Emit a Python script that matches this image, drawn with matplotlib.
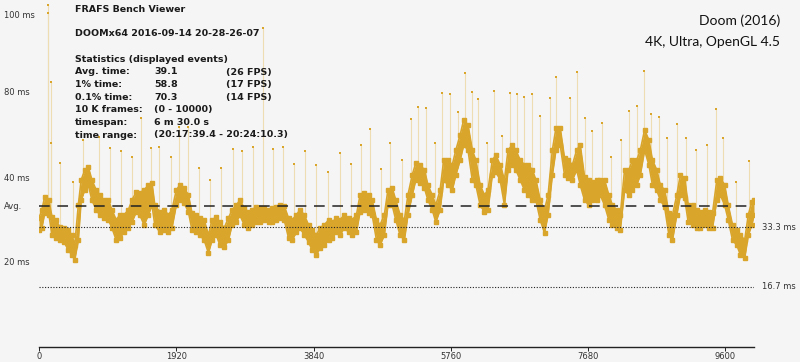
import numpy as np
import matplotlib
matplotlib.use('Agg')
import matplotlib.pyplot as plt
import matplotlib.transforms as mtransforms

# frame-time band (ms), lower and upper edge of the dot cloud
frames = [0, 40, 80, 140, 180, 240, 290, 350, 410, 460,
          500, 550, 590, 640, 690, 740, 800, 850, 910, 970,
          1020, 1080, 1130, 1190, 1250, 1300, 1360, 1410, 1470, 1530,
          1580, 1620, 1690, 1750, 1810, 1860, 1920, 1970, 2030, 2090,
          2140, 2200, 2250, 2310, 2370, 2420, 2480, 2530, 2590, 2650,
          2700, 2760, 2810, 2870, 2930, 2980, 3040, 3090, 3150, 3210,
          3260, 3320, 3370, 3430, 3490, 3540, 3600, 3650, 3710, 3770,
          3820, 3880, 3930, 3990, 4050, 4100, 4160, 4210, 4270, 4330,
          4380, 4440, 4490, 4550, 4610, 4660, 4720, 4770, 4830, 4880,
          4940, 4990, 5050, 5110, 5160, 5220, 5270, 5330, 5390, 5440,
          5500, 5550, 5610, 5660, 5720, 5780, 5830, 5890, 5940, 6000,
          6060, 6110, 6170, 6230, 6280, 6340, 6390, 6450, 6510, 6560,
          6620, 6670, 6730, 6790, 6840, 6900, 6950, 7010, 7070, 7120,
          7180, 7230, 7290, 7350, 7400, 7460, 7520, 7570, 7630, 7690,
          7740, 7800, 7850, 7910, 7970, 8020, 8080, 8130, 8190, 8250,
          8300, 8360, 8410, 8470, 8530, 8580, 8640, 8690, 8750, 8810,
          8860, 8920, 8970, 9030, 9080, 9140, 9200, 9250, 9310, 9370,
          9420, 9480, 9530, 9590, 9640, 9700, 9760, 9810, 9870, 9920,
          9970, 10000]

band_hi = [35.8, 38.1, 41.7, 40.8, 36.1, 35.3, 33.3, 33.1, 32.5, 31.1,
           28.3, 39.4, 46.4, 49.2, 50.0, 46.4, 43.6, 42.2, 40.8, 40.8,
           38.1, 35.3, 36.7, 36.7, 38.1, 40.8, 43.1, 42.8, 43.6, 45.0,
           45.6, 39.4, 37.5, 38.1, 36.7, 38.1, 43.6, 45.0, 44.2, 42.2,
           37.2, 36.7, 35.8, 35.3, 31.1, 35.3, 36.1, 34.7, 33.1, 35.8,
           38.1, 39.4, 40.8, 38.6, 37.5, 38.1, 38.9, 38.6, 38.6, 38.1,
           38.6, 38.9, 39.4, 39.2, 35.8, 35.3, 36.7, 38.1, 36.7, 33.9,
           32.5, 31.1, 33.1, 33.9, 35.3, 34.7, 35.8, 35.3, 36.7, 35.8,
           35.3, 36.7, 42.2, 42.8, 42.2, 40.8, 35.3, 33.9, 36.7, 43.6,
           44.2, 40.8, 36.7, 35.3, 42.2, 47.8, 51.1, 50.6, 49.2, 45.0,
           42.2, 39.4, 43.6, 51.9, 51.9, 50.6, 54.7, 58.9, 63.1, 61.7,
           54.7, 51.9, 45.0, 42.2, 43.6, 51.9, 53.3, 50.6, 46.4, 54.7,
           56.1, 54.7, 51.9, 50.6, 50.6, 49.2, 46.4, 40.8, 38.1, 42.2,
           54.7, 60.8, 60.8, 52.5, 51.9, 50.6, 54.7, 56.1, 47.2, 46.4,
           45.8, 46.4, 46.4, 46.4, 42.2, 39.4, 38.1, 36.7, 49.2, 49.2,
           51.9, 51.9, 54.7, 60.3, 57.5, 51.9, 49.2, 45.0, 43.6, 37.2,
           36.7, 42.2, 47.8, 46.9, 39.4, 39.4, 38.1, 37.5, 38.1, 37.5,
           37.2, 46.4, 46.9, 45.0, 39.4, 33.9, 32.5, 31.1, 29.7, 36.7,
           40.3, 40.8]

band_lo = [32.5, 33.1, 37.2, 36.7, 31.1, 30.3, 29.7, 29.2, 26.9, 25.6,
           24.2, 29.7, 40.8, 43.6, 45.0, 40.8, 38.1, 36.7, 35.8, 35.3,
           33.1, 29.7, 30.3, 31.9, 33.1, 34.7, 37.5, 36.7, 33.9, 36.7,
           39.4, 33.9, 31.9, 32.5, 31.9, 33.1, 39.4, 40.8, 40.0, 37.5,
           32.5, 31.9, 31.1, 29.7, 26.1, 29.7, 31.1, 28.3, 27.8, 29.7,
           33.9, 34.7, 36.7, 33.9, 33.1, 33.9, 34.7, 34.7, 35.3, 34.7,
           34.7, 35.3, 35.8, 35.3, 30.3, 29.7, 31.9, 33.1, 31.1, 29.2,
           26.9, 25.6, 27.5, 28.3, 29.7, 30.3, 31.9, 31.1, 33.1, 31.9,
           31.1, 31.9, 37.5, 38.1, 37.2, 36.7, 29.7, 28.3, 31.1, 39.4,
           39.4, 35.3, 31.1, 29.7, 36.7, 42.2, 46.4, 45.6, 44.2, 40.8,
           38.1, 34.7, 38.1, 46.4, 45.0, 43.6, 47.8, 51.9, 56.1, 54.7,
           46.4, 45.0, 39.4, 37.5, 38.1, 47.8, 48.6, 46.4, 39.4, 49.2,
           50.6, 49.2, 46.4, 43.6, 42.2, 40.8, 40.8, 35.3, 31.7, 36.7,
           47.8, 54.7, 56.1, 47.8, 46.9, 46.4, 49.2, 45.0, 40.8, 39.4,
           40.8, 40.8, 42.2, 39.4, 35.3, 33.9, 33.1, 32.5, 43.6, 42.2,
           43.6, 45.0, 47.8, 54.7, 50.6, 45.0, 43.6, 40.8, 38.9, 31.1,
           29.7, 36.7, 42.2, 41.4, 34.7, 33.9, 33.1, 33.1, 33.9, 33.1,
           33.1, 40.8, 42.2, 39.4, 35.3, 29.7, 28.3, 25.6, 24.7, 31.1,
           33.9, 36.7]

# single-frame spikes (frame, ms)
spike_frames = [122, 130, 168, 163, 300, 470, 610, 845, 995, 1140, 1300, 1420, 1570,
                1685, 1840, 1955, 2085, 2235, 2395, 2550, 2710, 2840, 2990, 3130,
                3270, 3410, 3560, 3715, 3870, 4040, 4205, 4360, 4505, 4635, 4780,
                4910, 5070, 5200, 5305, 5415, 5535, 5640, 5750, 5860, 5955, 6050,
                6140, 6270, 6370, 6480, 6585, 6690, 6790, 6900, 7005, 7140, 7230,
                7430, 7530, 7635, 7740, 7870, 7995, 8140, 8250, 8360, 8465, 8555,
                8670, 8790, 8930, 9050, 9185, 9340, 9470, 9570, 9750, 9925]
spike_ms = [95.0, 92.7, 73.7, 56.6, 51.0, 45.9, 57.5, 58.4, 55.2, 54.5, 52.7, 63.7, 55.2,
            55.6, 52.7, 61.2, 61.2, 49.6, 46.4, 49.6, 54.9, 54.5, 55.6, 88.5,
            55.0, 55.5, 50.8, 54.5, 50.6, 48.5, 53.8, 50.8, 56.1, 60.7, 49.4,
            56.8, 51.9, 63.3, 66.8, 66.5, 56.8, 70.7, 70.2, 65.4, 76.0, 70.9,
            68.9, 56.8, 71.2, 58.6, 70.7, 70.3, 69.5, 70.3, 64.3, 69.3, 75.1,
            69.3, 76.5, 63.5, 60.0, 62.1, 52.9, 57.5, 65.6, 67.0, 76.8, 64.6,
            63.8, 58.0, 61.9, 58.1, 54.7, 56.0, 66.0, 58.2, 45.9, 51.8]

avg_ms = 39.1
ref_lines = [33.3, 16.7]
xticks = [0, 1920, 3840, 5760, 7680, 9600]
ytick_pos = [92.2, 70.6, 46.9, 39.1, 23.6]
ytick_labels = ['100 ms', '80 ms', '40 ms', 'Avg.', '20 ms']

stats = [('Avg. time:', '39.1', '(26 FPS)'),
         ('1% time:', '58.8', '(17 FPS)'),
         ('0.1% time:', '70.3', '(14 FPS)'),
         ('10 K frames:', '(0 - 10000)', ''),
         ('timespan:', '6 m 30.0 s', ''),
         ('time range:', '(20:17:39.4 - 20:24:10.3)', '')]

gold = '#D9A52B'
pale = '#EEDDB2'
ink = '#1A1A1A'

fig = plt.figure(figsize=(8, 3.62), dpi=100, facecolor='#F5F5F5')
ax = fig.add_axes([39 / 800, 15 / 362, 715 / 800, 347 / 362])
ax.set_facecolor('none')
ax.set_xlim(0, 10000)
ax.set_ylim(0, 96.4)

# spikes: thin pale line up from the band, dot on top
base = np.interp(spike_frames, frames, band_lo)
ax.vlines(spike_frames, base, spike_ms, color=pale, lw=0.8, zorder=1)
ax.scatter(spike_frames, spike_ms, s=3, marker='s', color=gold, lw=0, zorder=3)

# the dot cloud
ax.fill_between(frames, band_lo, band_hi, color=gold, lw=0, zorder=2)
ax.plot(frames, band_hi, ls='-', lw=1.2, marker='s', ms=2.4, color=gold, zorder=2)
ax.plot(frames, band_lo, ls='-', lw=1.2, marker='s', ms=2.4, color=gold, zorder=2)

ax.axhline(avg_ms, color='#222222', lw=1.1, ls=(0, (7, 5)), zorder=4)
for v in ref_lines:
    ax.axhline(v, color='#222222', lw=0.8, ls=(0, (1, 1.5)), zorder=4)
    ax.text(10000 + 110, v, f'{v} ms', fontsize=6, color='#333333',
            va='center', ha='left', clip_on=False)

for s in ['top', 'right', 'left']:
    ax.spines[s].set_visible(False)
ax.spines['bottom'].set_color('#222222')
ax.spines['bottom'].set_linewidth(1.0)

ax.set_xticks(xticks)
ax.set_xticklabels([str(t) for t in xticks])
ax.tick_params(axis='x', length=3, width=0.7, pad=0.5, labelsize=6,
               labelcolor='#333333', color='#222222')
ax.set_yticks([])

trans = mtransforms.blended_transform_factory(fig.transFigure, ax.transData)
for pos, lab in zip(ytick_pos, ytick_labels):
    ax.text(4 / 800, pos, lab, transform=trans, fontsize=6, color='#333333',
            va='center', ha='left')

# header block
fs = 6.8
fig.text(75 / 800, 1 - 9.5 / 362, 'FRAFS Bench Viewer', fontsize=fs, fontweight='bold',
         va='center', ha='left', color=ink)
fig.text(75 / 800, 1 - 34 / 362, 'DOOMx64 2016-09-14 20-28-26-07', fontsize=fs,
         fontweight='bold', va='center', ha='left', color=ink)
fig.text(75 / 800, 1 - 59.5 / 362, 'Statistics (displayed events)', fontsize=fs,
         fontweight='bold', va='center', ha='left', color=ink)
for i, (a, b, c) in enumerate(stats):
    y = 1 - (72 + i * 12.6) / 362
    fig.text(75 / 800, y, a, fontsize=fs, fontweight='bold', va='center', ha='left', color=ink)
    fig.text(154 / 800, y, b, fontsize=fs, fontweight='bold', va='center', ha='left', color=ink)
    if c:
        fig.text(226 / 800, y, c, fontsize=fs, fontweight='bold', va='center', ha='left', color=ink)

fig.text(780 / 800, 1 - 21 / 362, 'Doom (2016)', fontsize=10, family='Lato',
         va='center', ha='right', color='#111111')
fig.text(780 / 800, 1 - 42 / 362, '4K, Ultra, OpenGL 4.5', fontsize=10, family='Lato',
         va='center', ha='right', color='#111111')

fig.savefig('out.png', dpi=100, facecolor=fig.get_facecolor())
